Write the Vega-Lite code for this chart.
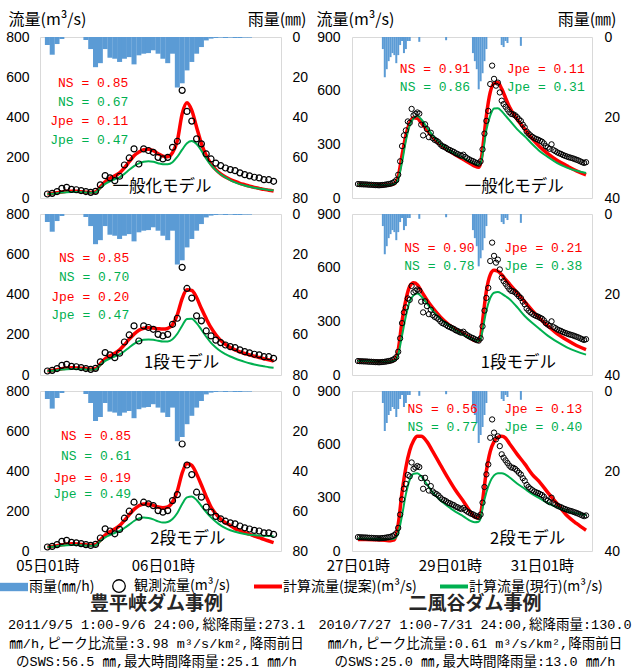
{
"$schema":"https://vega.github.io/schema/vega-lite/v6.json",
"background":"white",
"padding":{"left":5,"top":10,"right":2,"bottom":2},
"bounds":"flush",
"columns":2,
"spacing":{"row":16,"column":71},
"resolve":{"scale":{"color":"independent"},"legend":{"color":"independent"}},
"config":{
 "view":{"stroke":"#d9d9d9","strokeWidth":1},
 "font":"Noto Sans CJK JP",
 "axis":{"ticks":false,"domain":false,"grid":false,"labelFont":"Liberation Sans","labelFontSize":14,"labelColor":"#000000","titleFont":"Noto Sans CJK JP","titleFontSize":16,"titleFontWeight":"normal","titleColor":"#000000"}
},
"datasets":{
"L":[
{"t":1,"rain":4,"obs":20,"a1":20,"b1":20,"a2":20,"b2":20,"a3":20,"b3":20},
{"t":2,"rain":8.8,"obs":23,"a1":22,"b1":21,"a2":22,"b2":21,"a3":22,"b3":21},
{"t":3,"rain":3.5,"obs":32,"a1":26,"b1":24,"a2":26,"b2":24,"a3":26,"b3":24},
{"t":4,"rain":1,"obs":48,"a1":30,"b1":27,"a2":31,"b2":27,"a3":31,"b3":27},
{"t":5,"rain":0,"obs":53,"a1":33,"b1":29,"a2":35,"b2":29,"a3":35,"b3":29},
{"t":6,"rain":0,"obs":43,"a1":34,"b1":30,"a2":36,"b2":30,"a3":36,"b3":30},
{"t":7,"rain":0,"obs":41,"a1":33,"b1":30,"a2":35,"b2":30,"a3":35,"b3":30},
{"t":8,"rain":0,"obs":37,"a1":31,"b1":29,"a2":33,"b2":29,"a3":33,"b3":29},
{"t":9,"rain":1.5,"obs":32,"a1":29,"b1":27,"a2":31,"b2":27,"a3":31,"b3":27},
{"t":10,"rain":6,"obs":28,"a1":27,"b1":26,"a2":29,"b2":26,"a3":29,"b3":26},
{"t":11,"rain":15,"obs":33,"a1":30,"b1":28,"a2":31,"b2":28,"a3":31,"b3":28},
{"t":12,"rain":13,"obs":65,"a1":55,"b1":50,"a2":55,"b2":50,"a3":55,"b3":50},
{"t":13,"rain":6,"obs":111,"a1":80,"b1":70,"a2":80,"b2":70,"a3":80,"b3":68},
{"t":14,"rain":10.3,"obs":100,"a1":98,"b1":83,"a2":95,"b2":82,"a3":96,"b3":80},
{"t":15,"rain":10.8,"obs":86,"a1":110,"b1":93,"a2":108,"b2":92,"a3":110,"b3":90},
{"t":16,"rain":12.4,"obs":108,"a1":125,"b1":103,"a2":125,"b2":102,"a3":127,"b3":100},
{"t":17,"rain":10.8,"obs":164,"a1":150,"b1":120,"a2":150,"b2":118,"a3":153,"b3":115},
{"t":18,"rain":10,"obs":199,"a1":180,"b1":140,"a2":178,"b2":137,"a3":182,"b3":132},
{"t":19,"rain":13.6,"obs":244,"a1":210,"b1":158,"a2":203,"b2":155,"a3":208,"b3":150},
{"t":20,"rain":9.1,"obs":169,"a1":228,"b1":172,"a2":222,"b2":168,"a3":226,"b3":163},
{"t":21,"rain":8.3,"obs":244,"a1":240,"b1":180,"a2":232,"b2":175,"a3":235,"b3":168},
{"t":22,"rain":8,"obs":236,"a1":242,"b1":183,"a2":235,"b2":177,"a3":235,"b3":165},
{"t":23,"rain":6.6,"obs":227,"a1":235,"b1":180,"a2":233,"b2":175,"a3":228,"b3":158},
{"t":24,"rain":8.3,"obs":202,"a1":220,"b1":173,"a2":230,"b2":170,"a3":220,"b3":148},
{"t":25,"rain":10.8,"obs":194,"a1":208,"b1":168,"a2":228,"b2":166,"a3":216,"b3":142},
{"t":26,"rain":13,"obs":202,"a1":205,"b1":168,"a2":232,"b2":167,"a3":220,"b3":145},
{"t":27,"rain":8.3,"obs":252,"a1":225,"b1":178,"a2":250,"b2":178,"a3":245,"b3":160},
{"t":28,"rain":25.1,"obs":282,"a1":285,"b1":205,"a2":300,"b2":205,"a3":300,"b3":190},
{"t":29,"rain":23,"obs":535,"a1":418,"b1":240,"a2":380,"b2":245,"a3":390,"b3":235},
{"t":30,"rain":16.6,"obs":430,"a1":473,"b1":272,"a2":423,"b2":278,"a3":438,"b3":268},
{"t":31,"rain":12.4,"obs":382,"a1":435,"b1":283,"a2":420,"b2":280,"a3":428,"b3":272},
{"t":32,"rain":8.3,"obs":294,"a1":352,"b1":268,"a2":385,"b2":258,"a3":385,"b3":255},
{"t":33,"rain":5,"obs":269,"a1":270,"b1":235,"a2":330,"b2":225,"a3":330,"b3":225},
{"t":34,"rain":1.7,"obs":219,"a1":211,"b1":195,"a2":280,"b2":190,"a3":272,"b3":195},
{"t":35,"rain":0.8,"obs":194,"a1":169,"b1":163,"a2":235,"b2":160,"a3":220,"b3":168},
{"t":36,"rain":0.5,"obs":173,"a1":141,"b1":138,"a2":200,"b2":137,"a3":185,"b3":146},
{"t":37,"rain":0.3,"obs":161,"a1":120,"b1":118,"a2":172,"b2":118,"a3":160,"b3":128},
{"t":38,"rain":0.5,"obs":149,"a1":104,"b1":102,"a2":152,"b2":104,"a3":142,"b3":114},
{"t":39,"rain":0.3,"obs":141,"a1":92,"b1":89,"a2":137,"b2":92,"a3":127,"b3":104},
{"t":40,"rain":0.5,"obs":136,"a1":82,"b1":78,"a2":125,"b2":82,"a3":112,"b3":96},
{"t":41,"rain":0.5,"obs":125,"a1":73,"b1":69,"a2":115,"b2":73,"a3":102,"b3":90},
{"t":42,"rain":0.3,"obs":116,"a1":66,"b1":62,"a2":107,"b2":65,"a3":92,"b3":85},
{"t":43,"rain":0.3,"obs":110,"a1":59,"b1":56,"a2":100,"b2":58,"a3":84,"b3":81},
{"t":44,"rain":0,"obs":103,"a1":53,"b1":51,"a2":93,"b2":52,"a3":75,"b3":79},
{"t":45,"rain":0,"obs":100,"a1":48,"b1":47,"a2":87,"b2":47,"a3":67,"b3":77},
{"t":46,"rain":0,"obs":91,"a1":43,"b1":43,"a2":81,"b2":43,"a3":58,"b3":76},
{"t":47,"rain":0,"obs":91,"a1":39,"b1":40,"a2":75,"b2":39,"a3":50,"b3":75},
{"t":48,"rain":0,"obs":83,"a1":35,"b1":38,"a2":70,"b2":36,"a3":42,"b3":74}
],
"R":[
{"t":1,"rain":0,"obs":78},{"t":2,"rain":0,"obs":77},{"t":3,"rain":0,"obs":77},{"t":4,"rain":0,"obs":76},{"t":5,"rain":0,"obs":76},
{"t":6,"rain":0,"obs":75},{"t":7,"rain":0,"obs":74},{"t":8,"rain":0,"obs":74},{"t":9,"rain":0,"obs":73},{"t":10,"rain":0,"obs":72},
{"t":11,"rain":0,"obs":72},{"t":12,"rain":0,"obs":71},{"t":13,"rain":0,"obs":72},{"t":14,"rain":3,"obs":73},{"t":15,"rain":10,"obs":74},
{"t":16,"rain":8,"obs":76},{"t":17,"rain":6,"obs":78},{"t":18,"rain":5,"obs":80},{"t":19,"rain":4,"obs":84},{"t":20,"rain":4.5,"obs":90},
{"t":21,"rain":6.5,"obs":100},{"t":22,"rain":4.5,"obs":130},{"t":23,"rain":2,"obs":205},{"t":24,"rain":1,"obs":290},{"t":25,"rain":4,"obs":350},
{"t":26,"rain":3,"obs":378},{"t":27,"rain":1,"obs":428},{"t":28,"rain":1,"obs":420},{"t":29,"rain":0,"obs":498},{"t":30,"rain":0,"obs":462},
{"t":31,"rain":0,"obs":470},{"t":32,"rain":0,"obs":478},{"t":33,"rain":1.2,"obs":472},{"t":34,"rain":0,"obs":410},{"t":35,"rain":0,"obs":350},
{"t":36,"rain":0,"obs":412},{"t":37,"rain":0,"obs":385},{"t":38,"rain":0,"obs":340},{"t":39,"rain":0,"obs":365},{"t":40,"rain":0,"obs":335},
{"t":41,"rain":0,"obs":325},{"t":42,"rain":0,"obs":320},{"t":43,"rain":0,"obs":312},{"t":44,"rain":0,"obs":300},{"t":45,"rain":0,"obs":290},
{"t":46,"rain":0,"obs":286},{"t":47,"rain":0.8,"obs":280},{"t":48,"rain":0,"obs":272},{"t":49,"rain":0,"obs":268},{"t":50,"rain":0,"obs":262},
{"t":51,"rain":0,"obs":258},{"t":52,"rain":0,"obs":250},{"t":53,"rain":0,"obs":246},{"t":54,"rain":0,"obs":240},{"t":55,"rain":0,"obs":236},
{"t":56,"rain":0,"obs":242},{"t":57,"rain":0,"obs":230},{"t":58,"rain":0,"obs":222},{"t":59,"rain":0,"obs":216},{"t":60,"rain":0,"obs":210},
{"t":61,"rain":4,"obs":206},{"t":62,"rain":6,"obs":200},{"t":63,"rain":8,"obs":195},{"t":64,"rain":13,"obs":192},{"t":65,"rain":11,"obs":205},
{"t":66,"rain":9,"obs":272},{"t":67,"rain":6,"obs":360},{"t":68,"rain":3,"obs":431},{"t":69,"rain":0,"obs":487},{"t":70,"rain":0,"obs":637},
{"t":71,"rain":0,"obs":740},{"t":72,"rain":0,"obs":666},{"t":73,"rain":0,"obs":628},{"t":74,"rain":0,"obs":645},{"t":75,"rain":0,"obs":590},
{"t":76,"rain":2,"obs":544},{"t":77,"rain":2.5,"obs":525},{"t":78,"rain":1,"obs":510},{"t":79,"rain":1.5,"obs":495},{"t":80,"rain":0,"obs":480},
{"t":81,"rain":0,"obs":470},{"t":82,"rain":0,"obs":468},{"t":83,"rain":0,"obs":462},{"t":84,"rain":0,"obs":452},{"t":85,"rain":0,"obs":440},
{"t":86,"rain":2.2,"obs":430},{"t":87,"rain":0,"obs":410},{"t":88,"rain":0,"obs":395},{"t":89,"rain":0,"obs":372},{"t":90,"rain":0,"obs":360},
{"t":91,"rain":0,"obs":350},{"t":92,"rain":0,"obs":342},{"t":93,"rain":0,"obs":335},{"t":94,"rain":0,"obs":330},{"t":95,"rain":0,"obs":326},
{"t":96,"rain":0,"obs":320},{"t":97,"rain":0,"obs":315},{"t":98,"rain":0,"obs":305},{"t":99,"rain":0,"obs":290},{"t":100,"rain":0,"obs":282},
{"t":101,"rain":0,"obs":275},{"t":102,"rain":0,"obs":300},{"t":103,"rain":0,"obs":268},{"t":104,"rain":0,"obs":262},{"t":105,"rain":0,"obs":255},
{"t":106,"rain":0,"obs":250},{"t":107,"rain":0,"obs":246},{"t":108,"rain":0,"obs":240},{"t":109,"rain":0,"obs":236},{"t":110,"rain":0,"obs":232},
{"t":111,"rain":0,"obs":228},{"t":112,"rain":0,"obs":225},{"t":113,"rain":0,"obs":222},{"t":114,"rain":0,"obs":218},{"t":115,"rain":0,"obs":214},
{"t":116,"rain":0,"obs":210},{"t":117,"rain":0,"obs":205},{"t":118,"rain":0,"obs":200},{"t":119,"rain":0,"obs":196},{"t":120,"rain":0,"obs":200}
],
"RS":[
{"t":1,"a4":75,"b4":75,"a5":78,"b5":78,"a6":65,"b6":70},
{"t":5,"a4":75,"b4":75,"a5":78,"b5":78,"a6":65,"b6":70},
{"t":10,"a4":73,"b4":73,"a5":76,"b5":76,"a6":63,"b6":68},
{"t":15,"a4":72,"b4":72,"a5":75,"b5":75,"a6":60,"b6":66},
{"t":18,"a4":74,"b4":74,"a5":76,"b5":76,"a6":58,"b6":66},
{"t":20,"a4":80,"b4":78,"a5":82,"b5":80,"a6":62,"b6":70},
{"t":22,"a4":120,"b4":105,"a5":140,"b5":115,"a6":150,"b6":100},
{"t":24,"a4":240,"b4":200,"a5":300,"b5":220,"a6":330,"b6":200},
{"t":26,"a4":350,"b4":320,"a5":420,"b5":330,"a6":470,"b6":320},
{"t":28,"a4":420,"b4":405,"a5":495,"b5":410,"a6":565,"b6":400},
{"t":30,"a4":448,"b4":445,"a5":515,"b5":445,"a6":620,"b6":435},
{"t":32,"a4":445,"b4":458,"a5":505,"b5":455,"a6":645,"b6":438},
{"t":34,"a4":420,"b4":440,"a5":470,"b5":440,"a6":645,"b6":420},
{"t":37,"a4":380,"b4":395,"a5":420,"b5":400,"a6":615,"b6":375},
{"t":40,"a4":340,"b4":350,"a5":375,"b5":360,"a6":560,"b6":330},
{"t":44,"a4":300,"b4":305,"a5":325,"b5":315,"a6":485,"b6":285},
{"t":48,"a4":268,"b4":272,"a5":285,"b5":280,"a6":410,"b6":250},
{"t":52,"a4":240,"b4":245,"a5":255,"b5":250,"a6":340,"b6":220},
{"t":56,"a4":215,"b4":222,"a5":230,"b5":225,"a6":280,"b6":195},
{"t":60,"a4":190,"b4":200,"a5":205,"b5":205,"a6":215,"b6":168},
{"t":62,"a4":178,"b4":190,"a5":192,"b5":195,"a6":190,"b6":162},
{"t":64,"a4":172,"b4":186,"a5":190,"b5":190,"a6":185,"b6":165},
{"t":65,"a4":195,"b4":195,"a5":210,"b5":200,"a6":205,"b6":185},
{"t":66,"a4":270,"b4":240,"a5":300,"b5":250,"a6":280,"b6":240},
{"t":68,"a4":460,"b4":380,"a5":470,"b5":360,"a6":450,"b6":330},
{"t":70,"a4":590,"b4":460,"a5":560,"b5":430,"a6":560,"b6":390},
{"t":72,"a4":640,"b4":500,"a5":585,"b5":460,"a6":615,"b6":425},
{"t":74,"a4":645,"b4":502,"a5":580,"b5":464,"a6":640,"b6":438},
{"t":76,"a4":610,"b4":485,"a5":560,"b5":455,"a6":645,"b6":438},
{"t":78,"a4":560,"b4":460,"a5":535,"b5":440,"a6":635,"b6":430},
{"t":80,"a4":510,"b4":435,"a5":510,"b5":425,"a6":605,"b6":415},
{"t":84,"a4":440,"b4":385,"a5":460,"b5":380,"a6":545,"b6":380},
{"t":88,"a4":385,"b4":345,"a5":410,"b5":330,"a6":490,"b6":350},
{"t":92,"a4":330,"b4":300,"a5":360,"b5":290,"a6":430,"b6":320},
{"t":96,"a4":285,"b4":260,"a5":315,"b5":255,"a6":385,"b6":295},
{"t":100,"a4":248,"b4":230,"a5":275,"b5":220,"a6":330,"b6":270},
{"t":105,"a4":210,"b4":195,"a5":230,"b5":185,"a6":265,"b6":245},
{"t":110,"a4":180,"b4":170,"a5":195,"b5":155,"a6":200,"b6":225},
{"t":115,"a4":152,"b4":152,"a5":165,"b5":132,"a6":155,"b6":212},
{"t":120,"a4":130,"b4":140,"a5":142,"b5":114,"a6":117,"b6":202}
],
"N":[
{"p":"P1","t":17.8,"q":571,"s":"NS = 0.85","k":"r"},
{"p":"P1","t":17.8,"q":476,"s":"NS = 0.67","k":"g"},
{"p":"P1","t":17.8,"q":382,"s":"Jpe = 0.11","k":"r"},
{"p":"P1","t":17.8,"q":286,"s":"Jpe = 0.47","k":"g"},
{"p":"P1","t":24.8,"q":55,"s":"一般化モデル","k":"m"},
{"p":"P2","t":18,"q":580,"s":"NS = 0.85","k":"r"},
{"p":"P2","t":18,"q":488,"s":"NS = 0.70","k":"g"},
{"p":"P2","t":18,"q":389,"s":"Jpe = 0.20","k":"r"},
{"p":"P2","t":18,"q":298,"s":"Jpe = 0.47","k":"g"},
{"p":"P2","t":28.9,"q":60,"s":"1段モデル","k":"m"},
{"p":"P3","t":18.4,"q":576,"s":"NS = 0.85","k":"r"},
{"p":"P3","t":18.4,"q":476,"s":"NS = 0.61","k":"g"},
{"p":"P3","t":18.4,"q":367,"s":"Jpe = 0.19","k":"r"},
{"p":"P3","t":18.4,"q":284,"s":"Jpe = 0.49","k":"g"},
{"p":"P3","t":30.2,"q":60,"s":"2段モデル","k":"m"},
{"p":"P4","t":59.5,"q":720,"s":"NS = 0.91","k":"r"},
{"p":"P4","t":59.5,"q":619,"s":"NS = 0.86","k":"g"},
{"p":"P4","t":119.3,"q":720,"s":"Jpe = 0.11","k":"r"},
{"p":"P4","t":119.3,"q":619,"s":"Jpe = 0.31","k":"g"},
{"p":"P4","t":82.5,"q":62,"s":"一般化モデル","k":"m"},
{"p":"P5","t":61.8,"q":711,"s":"NS = 0.90","k":"r"},
{"p":"P5","t":61.8,"q":612,"s":"NS = 0.78","k":"g"},
{"p":"P5","t":118,"q":711,"s":"Jpe = 0.21","k":"r"},
{"p":"P5","t":118,"q":612,"s":"Jpe = 0.38","k":"g"},
{"p":"P5","t":84.7,"q":65,"s":"1段モデル","k":"m"},
{"p":"P6","t":63.5,"q":796,"s":"NS = 0.56","k":"r"},
{"p":"P6","t":63.5,"q":696,"s":"NS = 0.77","k":"g"},
{"p":"P6","t":118,"q":796,"s":"Jpe = 0.13","k":"r"},
{"p":"P6","t":118,"q":696,"s":"Jpe = 0.40","k":"g"},
{"p":"P6","t":89.5,"q":66,"s":"2段モデル","k":"m"}
]
},
"concat":[
 {"width":241,"height":161,
  "encoding":{"x":{"field":"t","type":"quantitative","scale":{"domain":[0.5,48.5],"nice":false,"zero":false},"axis":null}},
  "layer":[
   {"data":{"name":"L"},"mark":{"type":"bar","width":5.02,"color":"#5B9BD5"},
    "encoding":{"y":{"field":"rain","type":"quantitative","scale":{"domain":[0,80],"reverse":true,"nice":false},"axis":{"orient":"right","values":[0,20,40,60,80],"labelPadding":11,"title":"雨量(㎜)","titleAngle":0,"titleAlign":"right","titleBaseline":"middle","titleX":25,"titleY":-18}}}},
   {"data":{"name":"L"},"mark":{"type":"line","color":"#FF0000","strokeWidth":3.5,"interpolate":"monotone"},
    "encoding":{"y":{"field":"a1","type":"quantitative","scale":{"domain":[0,800],"nice":false},"axis":{"orient":"left","values":[0,200,400,600,800],"labelPadding":11,"title":"流量(m³/s)","titleAngle":0,"titleAlign":"left","titleBaseline":"middle","titleX":-32,"titleY":-18}}}},
   {"data":{"name":"L"},"mark":{"type":"line","color":"#00B050","strokeWidth":2,"interpolate":"monotone"},
    "encoding":{"y":{"field":"b1","type":"quantitative","scale":{"domain":[0,800],"nice":false},"axis":null}}},
   {"data":{"name":"L"},"mark":{"type":"point","filled":false,"color":"#000000","size":36,"strokeWidth":1.2,"opacity":1},
    "encoding":{"y":{"field":"obs","type":"quantitative","scale":{"domain":[0,800],"nice":false},"axis":null}}},
   {"data":{"name":"N"},"transform":[{"filter":"datum.p == 'P1' && datum.k != 'm'"}],"mark":{"type":"text","font":"Liberation Mono","fontSize":13,"align":"right","baseline":"middle"},
    "encoding":{"y":{"field":"q","type":"quantitative","scale":{"domain":[0,800],"nice":false},"axis":null},"text":{"field":"s"},"color":{"condition":{"test":"datum.k == 'r'","value":"#FF0000"},"value":"#00B050"}}},
   {"data":{"name":"N"},"transform":[{"filter":"datum.p == 'P1' && datum.k == 'm'"}],"mark":{"type":"text","fontSize":16.5,"align":"center","baseline":"middle","color":"#000000"},
    "encoding":{"y":{"field":"q","type":"quantitative","scale":{"domain":[0,800],"nice":false},"axis":null},"text":{"field":"s"}}}
  ],
  "resolve":{"scale":{"y":"independent"}}
 },
 {"width":240,"height":161,
  "encoding":{"x":{"field":"t","type":"quantitative","scale":{"domain":[0.5,120.5],"nice":false,"zero":false},"axis":null}},
  "layer":[
   {"data":{"name":"R"},"mark":{"type":"bar","width":2,"color":"#5B9BD5"},
    "encoding":{"y":{"field":"rain","type":"quantitative","scale":{"domain":[0,40],"reverse":true,"nice":false},"axis":{"orient":"right","values":[0,20,40],"labelPadding":12,"title":"雨量(㎜)","titleAngle":0,"titleAlign":"right","titleBaseline":"middle","titleX":24,"titleY":-18}}}},
   {"data":{"name":"RS"},"mark":{"type":"line","color":"#FF0000","strokeWidth":3.5,"interpolate":"monotone"},
    "encoding":{"y":{"field":"a4","type":"quantitative","scale":{"domain":[0,900],"nice":false},"axis":{"orient":"left","values":[0,300,600,900],"labelPadding":12,"title":"流量(m³/s)","titleAngle":0,"titleAlign":"left","titleBaseline":"middle","titleX":-36,"titleY":-18}}}},
   {"data":{"name":"RS"},"mark":{"type":"line","color":"#00B050","strokeWidth":2,"interpolate":"monotone"},
    "encoding":{"y":{"field":"b4","type":"quantitative","scale":{"domain":[0,900],"nice":false},"axis":null}}},
   {"data":{"name":"R"},"mark":{"type":"point","filled":false,"color":"#000000","size":28,"strokeWidth":1,"opacity":1},
    "encoding":{"y":{"field":"obs","type":"quantitative","scale":{"domain":[0,900],"nice":false},"axis":null}}},
   {"data":{"name":"N"},"transform":[{"filter":"datum.p == 'P4' && datum.k != 'm'"}],"mark":{"type":"text","font":"Liberation Mono","fontSize":13,"align":"right","baseline":"middle"},
    "encoding":{"y":{"field":"q","type":"quantitative","scale":{"domain":[0,900],"nice":false},"axis":null},"text":{"field":"s"},"color":{"condition":{"test":"datum.k == 'r'","value":"#FF0000"},"value":"#00B050"}}},
   {"data":{"name":"N"},"transform":[{"filter":"datum.p == 'P4' && datum.k == 'm'"}],"mark":{"type":"text","fontSize":16.5,"align":"center","baseline":"middle","color":"#000000"},
    "encoding":{"y":{"field":"q","type":"quantitative","scale":{"domain":[0,900],"nice":false},"axis":null},"text":{"field":"s"}}}
  ],
  "resolve":{"scale":{"y":"independent"}}
 },
 {"width":241,"height":161,
  "encoding":{"x":{"field":"t","type":"quantitative","scale":{"domain":[0.5,48.5],"nice":false,"zero":false},"axis":null}},
  "layer":[
   {"data":{"name":"L"},"mark":{"type":"bar","width":5.02,"color":"#5B9BD5"},
    "encoding":{"y":{"field":"rain","type":"quantitative","scale":{"domain":[0,80],"reverse":true,"nice":false},"axis":{"orient":"right","values":[0,20,40,60,80],"labelPadding":11,"title":null}}}},
   {"data":{"name":"L"},"mark":{"type":"line","color":"#FF0000","strokeWidth":3.5,"interpolate":"monotone"},
    "encoding":{"y":{"field":"a2","type":"quantitative","scale":{"domain":[0,800],"nice":false},"axis":{"orient":"left","values":[0,200,400,600,800],"labelPadding":11,"title":null}}}},
   {"data":{"name":"L"},"mark":{"type":"line","color":"#00B050","strokeWidth":2,"interpolate":"monotone"},
    "encoding":{"y":{"field":"b2","type":"quantitative","scale":{"domain":[0,800],"nice":false},"axis":null}}},
   {"data":{"name":"L"},"mark":{"type":"point","filled":false,"color":"#000000","size":36,"strokeWidth":1.2,"opacity":1},
    "encoding":{"y":{"field":"obs","type":"quantitative","scale":{"domain":[0,800],"nice":false},"axis":null}}},
   {"data":{"name":"N"},"transform":[{"filter":"datum.p == 'P2' && datum.k != 'm'"}],"mark":{"type":"text","font":"Liberation Mono","fontSize":13,"align":"right","baseline":"middle"},
    "encoding":{"y":{"field":"q","type":"quantitative","scale":{"domain":[0,800],"nice":false},"axis":null},"text":{"field":"s"},"color":{"condition":{"test":"datum.k == 'r'","value":"#FF0000"},"value":"#00B050"}}},
   {"data":{"name":"N"},"transform":[{"filter":"datum.p == 'P2' && datum.k == 'm'"}],"mark":{"type":"text","fontSize":16.5,"align":"center","baseline":"middle","color":"#000000"},
    "encoding":{"y":{"field":"q","type":"quantitative","scale":{"domain":[0,800],"nice":false},"axis":null},"text":{"field":"s"}}}
  ],
  "resolve":{"scale":{"y":"independent"}}
 },
 {"width":240,"height":161,
  "encoding":{"x":{"field":"t","type":"quantitative","scale":{"domain":[0.5,120.5],"nice":false,"zero":false},"axis":null}},
  "layer":[
   {"data":{"name":"R"},"mark":{"type":"bar","width":2,"color":"#5B9BD5"},
    "encoding":{"y":{"field":"rain","type":"quantitative","scale":{"domain":[0,40],"reverse":true,"nice":false},"axis":{"orient":"right","values":[0,20,40],"labelPadding":12,"title":null}}}},
   {"data":{"name":"RS"},"mark":{"type":"line","color":"#FF0000","strokeWidth":3.5,"interpolate":"monotone"},
    "encoding":{"y":{"field":"a5","type":"quantitative","scale":{"domain":[0,900],"nice":false},"axis":{"orient":"left","values":[0,300,600,900],"labelPadding":12,"title":null}}}},
   {"data":{"name":"RS"},"mark":{"type":"line","color":"#00B050","strokeWidth":2,"interpolate":"monotone"},
    "encoding":{"y":{"field":"b5","type":"quantitative","scale":{"domain":[0,900],"nice":false},"axis":null}}},
   {"data":{"name":"R"},"mark":{"type":"point","filled":false,"color":"#000000","size":28,"strokeWidth":1,"opacity":1},
    "encoding":{"y":{"field":"obs","type":"quantitative","scale":{"domain":[0,900],"nice":false},"axis":null}}},
   {"data":{"name":"N"},"transform":[{"filter":"datum.p == 'P5' && datum.k != 'm'"}],"mark":{"type":"text","font":"Liberation Mono","fontSize":13,"align":"right","baseline":"middle"},
    "encoding":{"y":{"field":"q","type":"quantitative","scale":{"domain":[0,900],"nice":false},"axis":null},"text":{"field":"s"},"color":{"condition":{"test":"datum.k == 'r'","value":"#FF0000"},"value":"#00B050"}}},
   {"data":{"name":"N"},"transform":[{"filter":"datum.p == 'P5' && datum.k == 'm'"}],"mark":{"type":"text","fontSize":16.5,"align":"center","baseline":"middle","color":"#000000"},
    "encoding":{"y":{"field":"q","type":"quantitative","scale":{"domain":[0,900],"nice":false},"axis":null},"text":{"field":"s"}}}
  ],
  "resolve":{"scale":{"y":"independent"}}
 },
 {"width":241,"height":160,
  "title":{"text":"豊平峡ダム事例","subtitle":["2011/9/5 1:00-9/6 24:00,総降雨量:273.1","㎜/h,ピーク比流量:3.98 m³/s/km²,降雨前日","のSWS:56.5 ㎜,最大時間降雨量:25.1 ㎜/h"],"orient":"bottom","anchor":"middle","frame":"group","offset":0,"dx":-4,"font":"Noto Sans CJK JP","fontSize":19,"fontWeight":"bold","color":"#262626","subtitleFont":"Liberation Mono, Noto Sans CJK JP","subtitleFontSize":13.5,"subtitleColor":"#000000","subtitleLineHeight":18.5,"subtitlePadding":4},
  "encoding":{"x":{"field":"t","type":"quantitative","scale":{"domain":[0.5,48.5],"nice":false,"zero":false},"axis":{"values":[1,25],"labelExpr":"datum.value == 1 ? '05日01時' : '06日01時'","labelFont":"Noto Sans CJK JP","labelFontSize":15,"labelPadding":7,"title":null,"labelOverlap":false,"labelFlush":false}}},
  "layer":[
   {"data":{"name":"L"},"mark":{"type":"bar","width":5.02},
    "encoding":{"y":{"field":"rain","type":"quantitative","scale":{"domain":[0,80],"reverse":true,"nice":false},"axis":{"orient":"right","values":[0,20,40,60,80],"labelPadding":11,"title":null}},
     "color":{"datum":"雨量(㎜/h)","type":"nominal","scale":{"domain":["雨量(㎜/h)","観測流量(m³/s)","計算流量(提案)(m³/s)","計算流量(現行)(m³/s)"],"range":["#5B9BD5","#000000","#FF0000","#00B050"]},
      "legend":{"orient":"none","legendX":-33,"legendY":188,"direction":"horizontal","title":null,"labelFont":"Noto Sans CJK JP","labelFontSize":14,"labelColor":"#000000","labelOffset":8,"columnPadding":15,"labelLimit":300,"symbolSize":784,
       "encode":{"symbols":{"update":{
        "shape":{"signal":"datum.value === '雨量(㎜/h)' ? 'M-1,-0.3H1V0.3H-1Z' : datum.value === '観測流量(m³/s)' ? 'M0.45,0A0.45,0.45,0,1,1,-0.45,0A0.45,0.45,0,1,1,0.45,0Z' : 'M-1,0H1'"},
        "size":{"value":784},
        "fill":{"signal":"datum.value === '雨量(㎜/h)' ? '#5B9BD5' : '#ffffff'"},
        "fillOpacity":{"signal":"datum.value === '雨量(㎜/h)' ? 1 : 0"},
        "stroke":{"signal":"datum.value === '雨量(㎜/h)' ? '#5B9BD5' : datum.value === '観測流量(m³/s)' ? '#000000' : datum.value === '計算流量(提案)(m³/s)' ? '#FF0000' : '#00B050'"},
        "strokeWidth":{"signal":"datum.value === '観測流量(m³/s)' ? 1.3 : datum.value === '雨量(㎜/h)' ? 0 : 4"},
        "strokeOpacity":{"value":1},
        "opacity":{"value":1}}}}}}}},
   {"data":{"name":"L"},"mark":{"type":"line","strokeWidth":3.5,"interpolate":"monotone"},
    "encoding":{"y":{"field":"a3","type":"quantitative","scale":{"domain":[0,800],"nice":false},"axis":{"orient":"left","values":[0,200,400,600,800],"labelPadding":11,"title":null}},"color":{"datum":"計算流量(提案)(m³/s)","type":"nominal"}}},
   {"data":{"name":"L"},"mark":{"type":"line","strokeWidth":2,"interpolate":"monotone"},
    "encoding":{"y":{"field":"b3","type":"quantitative","scale":{"domain":[0,800],"nice":false},"axis":null},"color":{"datum":"計算流量(現行)(m³/s)","type":"nominal"}}},
   {"data":{"name":"L"},"mark":{"type":"point","filled":false,"size":36,"strokeWidth":1.2,"opacity":1},
    "encoding":{"y":{"field":"obs","type":"quantitative","scale":{"domain":[0,800],"nice":false},"axis":null},"color":{"datum":"観測流量(m³/s)","type":"nominal"}}},
   {"data":{"name":"N"},"transform":[{"filter":"datum.p == 'P3' && datum.k != 'm'"}],"mark":{"type":"text","font":"Liberation Mono","fontSize":13,"align":"right","baseline":"middle"},
    "encoding":{"y":{"field":"q","type":"quantitative","scale":{"domain":[0,800],"nice":false},"axis":null},"text":{"field":"s"},"fill":{"condition":{"test":"datum.k == 'r'","value":"#FF0000"},"value":"#00B050"}}},
   {"data":{"name":"N"},"transform":[{"filter":"datum.p == 'P3' && datum.k == 'm'"}],"mark":{"type":"text","fontSize":16.5,"align":"center","baseline":"middle","fill":"#000000"},
    "encoding":{"y":{"field":"q","type":"quantitative","scale":{"domain":[0,800],"nice":false},"axis":null},"text":{"field":"s"}}}
  ],
  "resolve":{"scale":{"y":"independent"}}
 },
 {"width":240,"height":160,
  "title":{"text":"二風谷ダム事例","subtitle":["2010/7/27 1:00-7/31 24:00,総降雨量:130.0","㎜/h,ピーク比流量:0.61 m³/s/km²,降雨前日","のSWS:25.0 ㎜,最大時間降雨量:13.0 ㎜/h"],"orient":"bottom","anchor":"middle","frame":"group","offset":22,"dx":3,"font":"Noto Sans CJK JP","fontSize":19,"fontWeight":"bold","color":"#262626","subtitleFont":"Liberation Mono, Noto Sans CJK JP","subtitleFontSize":13.5,"subtitleColor":"#000000","subtitleLineHeight":18.5,"subtitlePadding":4},
  "encoding":{"x":{"field":"t","type":"quantitative","scale":{"domain":[0.5,120.5],"nice":false,"zero":false},"axis":{"values":[1,49,97],"labelExpr":"datum.value == 1 ? '27日01時' : datum.value == 49 ? '29日01時' : '31日01時'","labelFont":"Noto Sans CJK JP","labelFontSize":15,"labelPadding":7,"title":null,"labelOverlap":false,"labelFlush":false}}},
  "layer":[
   {"data":{"name":"R"},"mark":{"type":"bar","width":2,"color":"#5B9BD5"},
    "encoding":{"y":{"field":"rain","type":"quantitative","scale":{"domain":[0,40],"reverse":true,"nice":false},"axis":{"orient":"right","values":[0,20,40],"labelPadding":12,"title":null}}}},
   {"data":{"name":"RS"},"mark":{"type":"line","color":"#FF0000","strokeWidth":3.5,"interpolate":"monotone"},
    "encoding":{"y":{"field":"a6","type":"quantitative","scale":{"domain":[0,900],"nice":false},"axis":{"orient":"left","values":[0,300,600,900],"labelPadding":12,"title":null}}}},
   {"data":{"name":"RS"},"mark":{"type":"line","color":"#00B050","strokeWidth":2,"interpolate":"monotone"},
    "encoding":{"y":{"field":"b6","type":"quantitative","scale":{"domain":[0,900],"nice":false},"axis":null}}},
   {"data":{"name":"R"},"mark":{"type":"point","filled":false,"color":"#000000","size":28,"strokeWidth":1,"opacity":1},
    "encoding":{"y":{"field":"obs","type":"quantitative","scale":{"domain":[0,900],"nice":false},"axis":null}}},
   {"data":{"name":"N"},"transform":[{"filter":"datum.p == 'P6' && datum.k != 'm'"}],"mark":{"type":"text","font":"Liberation Mono","fontSize":13,"align":"right","baseline":"middle"},
    "encoding":{"y":{"field":"q","type":"quantitative","scale":{"domain":[0,900],"nice":false},"axis":null},"text":{"field":"s"},"color":{"condition":{"test":"datum.k == 'r'","value":"#FF0000"},"value":"#00B050"}}},
   {"data":{"name":"N"},"transform":[{"filter":"datum.p == 'P6' && datum.k == 'm'"}],"mark":{"type":"text","fontSize":16.5,"align":"center","baseline":"middle","color":"#000000"},
    "encoding":{"y":{"field":"q","type":"quantitative","scale":{"domain":[0,900],"nice":false},"axis":null},"text":{"field":"s"}}}
  ],
  "resolve":{"scale":{"y":"independent"}}
 }
]
}
